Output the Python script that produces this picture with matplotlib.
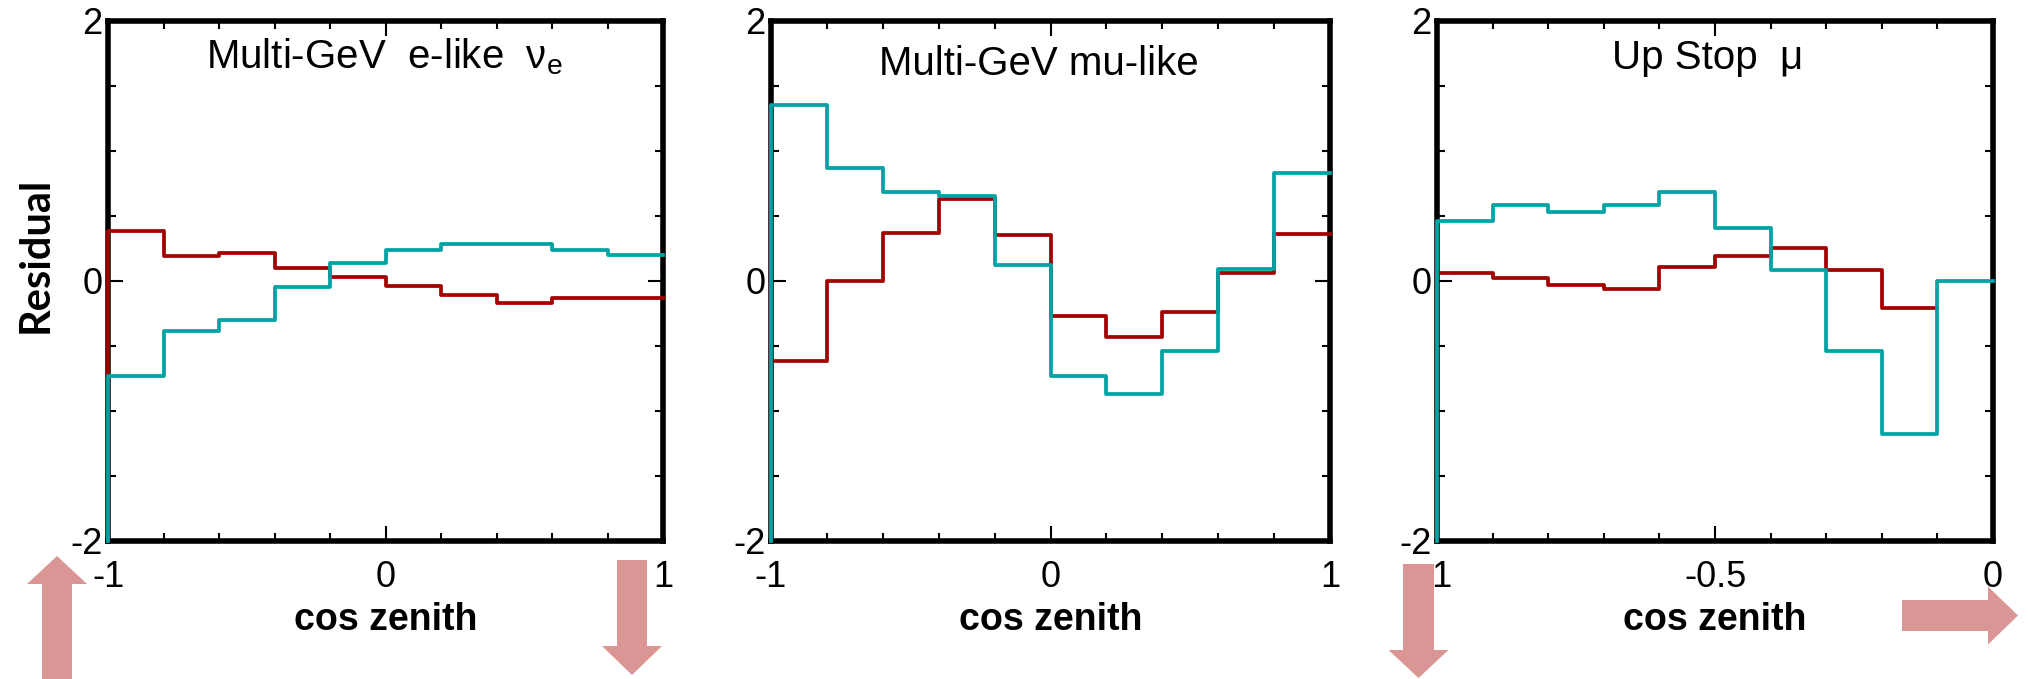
import matplotlib
matplotlib.use("Agg")
import matplotlib.pyplot as plt
import numpy as np
from matplotlib.patches import FancyArrow

plt.rcParams["font.family"] = ["Liberation Sans", "DejaVu Sans"]
plt.rcParams["mathtext.fontset"] = "custom"
plt.rcParams["mathtext.rm"] = "Liberation Sans"
plt.rcParams["axes.unicode_minus"] = False

# bin edges in cos zenith
EDGES_FULL = [-1.0, -0.8, -0.6, -0.4, -0.2, 0.0, 0.2, 0.4, 0.6, 0.8, 1.0]
EDGES_UP = [-1.0, -0.9, -0.8, -0.7, -0.6, -0.5, -0.4, -0.3, -0.2, -0.1, 0.0]

# residuals
ELIKE_RED = [0.38, 0.19, 0.21, 0.10, 0.03, -0.04, -0.11, -0.17, -0.13, -0.13]
ELIKE_TEAL = [-0.73, -0.385, -0.30, -0.05, 0.14, 0.24, 0.28, 0.28, 0.24, 0.20]
MULIKE_RED = [-0.62, 0.0, 0.37, 0.63, 0.35, -0.27, -0.43, -0.24, 0.06, 0.36]
MULIKE_TEAL = [1.35, 0.87, 0.68, 0.65, 0.12, -0.73, -0.87, -0.54, 0.09, 0.83]
UPSTOP_RED = [0.06, 0.02, -0.03, -0.06, 0.105, 0.19, 0.25, 0.085, -0.21]
UPSTOP_TEAL = [0.46, 0.58, 0.53, 0.58, 0.68, 0.41, 0.085, -0.54, -1.18, 0.0]

TITLES = ["Multi-GeV  e-like  \u03bd$_\\mathregular{e}$",
          "Multi-GeV mu-like",
          "Up Stop  \u03bc"]
XTICKS_FULL = [-1, 0, 1]
XTICKLABELS_FULL = ["-1", "0", "1"]
XTICKS_UP = [-1, -0.5, 0]
XTICKLABELS_UP = ["-1", "-0.5", "0"]
YTICKS = [-2, 0, 2]
YTICKLABELS = ["-2", "0", "2"]

Y_MIN, Y_MAX = -2, 2
RED = "#a30000"
TEAL = "#00a3a3"
PINK = "#d99694"

W_PX, H_PX = 2028, 679
# axes boxes in pixels: left, right, top, bottom
PANELS_PX = [(108, 663, 21, 540.5), (771, 1330, 21, 540.5), (1437, 1993, 21, 540.5)]


def draw_hist(ax, edges, values, color):
    n = len(values)
    x = np.r_[edges[0], edges[:n + 1]]
    y = np.r_[Y_MIN, values, values[-1]]
    ax.step(x, y, where="post", color=color, lw=2.7, zorder=3, clip_on=False)


def style_axes(ax, edges, xticks, xticklabels):
    ax.set_xlim(edges[0], edges[-1])
    ax.set_ylim(Y_MIN, Y_MAX)
    ax.set_xticks(xticks, xticklabels)
    ax.set_xticks(edges, minor=True)
    ax.set_yticks(YTICKS, YTICKLABELS)
    ax.set_yticks(np.arange(Y_MIN, Y_MAX + 0.25, 0.5), minor=True)
    ax.tick_params(which="both", direction="in", top=True, right=True,
                   width=1.5, labelsize=26)
    ax.tick_params(which="major", length=10.5)
    ax.tick_params(which="minor", length=5.5)
    ax.tick_params(axis="x", pad=14)
    ax.tick_params(axis="y", pad=4)
    for s in ax.spines.values():
        s.set_linewidth(4)
    ax.set_xlabel("cos zenith", fontsize=27, fontweight="bold")
    ax.xaxis.set_label_coords(0.5, -0.172)
    ax.xaxis.label.set_verticalalignment("baseline")


fig = plt.figure(figsize=(W_PX / 100, H_PX / 100), dpi=100)

panel_data = [
    (EDGES_FULL, ELIKE_RED, ELIKE_TEAL, XTICKS_FULL, XTICKLABELS_FULL),
    (EDGES_FULL, MULIKE_RED, MULIKE_TEAL, XTICKS_FULL, XTICKLABELS_FULL),
    (EDGES_UP, UPSTOP_RED, UPSTOP_TEAL, XTICKS_UP, XTICKLABELS_UP),
]
title_pos = [(0.498, 0.908), (0.479, 0.896), (0.487, 0.908)]

for (l, r, t, b), (edges, red, teal, xt, xtl), title, (tx, ty) in zip(
        PANELS_PX, panel_data, TITLES, title_pos):
    ax = fig.add_axes([l / W_PX, 1 - b / H_PX, (r - l) / W_PX, (b - t) / H_PX])
    draw_hist(ax, edges, red, RED)
    draw_hist(ax, edges, teal, TEAL)
    style_axes(ax, edges, xt, xtl)
    ax.text(tx, ty, title, transform=ax.transAxes, ha="center",
            va="baseline", fontsize=29)

fig.text(36 / W_PX, 1 - 255 / H_PX, "Residual", rotation=90, ha="center",
         va="center", fontsize=30, fontweight="bold", family=["Lato", "DejaVu Sans"])

# pink direction arrows (inches from bottom-left)
arrows = [
    (0.57, 0.0, 0.0, 1.23, 0.30, 0.60, 0.28),
    (6.32, 1.19, 0.0, -1.15, 0.30, 0.60, 0.29),
    (14.185, 1.15, 0.0, -1.14, 0.31, 0.60, 0.28),
    (19.02, 0.635, 1.16, 0.0, 0.31, 0.58, 0.30),
]
for x, y, dx, dy, w, hw, hl in arrows:
    fig.add_artist(FancyArrow(x, y, dx, dy, width=w, head_width=hw,
                              head_length=hl, length_includes_head=True,
                              transform=fig.dpi_scale_trans, color=PINK,
                              lw=0, zorder=10))

fig.savefig("out.png", dpi=100)
